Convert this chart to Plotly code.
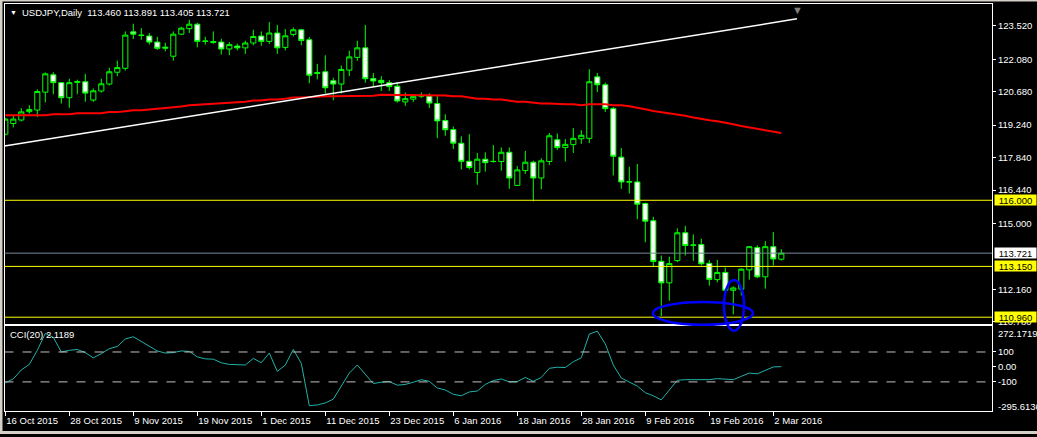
import pandas as pd
import plotly.graph_objects as go
from plotly.subplots import make_subplots

# trading days on the chart (broker has no bars on 25 Dec and 1 Jan)
dates = [d for d in pd.bdate_range("2015-10-16", "2016-03-03")
         if d.strftime("%m-%d") not in ("12-25", "01-01")]
bars = list(range(len(dates)))

open_ = [118.85, 119.31, 119.46, 119.82, 119.89, 120.66, 121.41, 121.07, 120.42, 121.08,
         121.11, 120.32, 120.71, 121.01, 121.52, 121.69, 123.26, 123.12, 123.08, 122.82,
         122.60, 122.21, 123.16, 123.40, 123.59, 122.87, 122.80, 122.82, 122.52, 122.65,
         122.57, 122.78, 123.08, 122.85, 123.21, 122.59, 123.15, 123.35, 122.92, 121.51,
         121.54, 121.15, 121.01, 121.61, 122.16, 122.57, 121.25, 121.17, 121.07, 120.92,
         120.24, 120.36, 120.52, 120.49, 120.17, 119.44, 119.05, 118.46, 117.68, 117.20,
         117.77, 117.68, 117.67, 118.07, 116.64, 117.28, 117.64, 116.96, 117.67, 118.61,
         118.27, 118.40, 118.65, 118.67, 121.32, 120.98, 119.95, 117.86, 116.80, 116.79,
         115.86, 115.12, 113.37, 112.44, 113.40, 114.60, 114.06, 114.09, 113.28, 112.58,
         112.89, 112.12, 112.17, 113.00, 113.96, 112.70, 114.00, 113.460]
high = [119.55, 119.64, 119.97, 120.10, 120.78, 121.51, 121.52, 121.09, 121.24, 121.20,
        121.45, 120.82, 121.24, 121.71, 122.02, 123.28, 123.61, 123.42, 123.21, 123.05,
        122.79, 123.28, 123.48, 123.78, 123.65, 123.05, 123.28, 122.96, 122.82, 122.75,
        122.88, 123.35, 123.28, 123.68, 123.56, 123.38, 123.45, 123.39, 123.04, 121.88,
        122.25, 121.28, 121.81, 122.45, 122.88, 123.56, 121.49, 121.35, 121.18, 121.08,
        120.64, 120.58, 120.65, 120.61, 120.49, 119.71, 119.18, 118.76, 118.85, 118.04,
        118.07, 118.38, 118.28, 118.28, 117.47, 118.13, 117.71, 117.81, 118.90, 118.88,
        118.64, 119.11, 119.02, 121.65, 121.49, 121.07, 120.02, 118.25, 117.45, 117.57,
        115.90, 115.29, 113.62, 113.57, 114.79, 114.90, 114.53, 114.34, 113.42, 113.43,
        113.10, 112.29, 113.07, 114.02, 114.05, 114.24, 114.63, 113.891]
low = [118.80, 119.14, 119.40, 119.74, 119.59, 120.22, 120.57, 120.17, 119.99, 120.57,
       120.25, 120.24, 120.64, 120.95, 121.35, 121.59, 122.95, 122.92, 122.71, 122.48,
       122.42, 122.02, 123.13, 123.21, 122.59, 122.71, 122.75, 122.28, 122.25, 122.46,
       122.31, 122.68, 122.66, 122.74, 122.31, 122.46, 123.06, 122.68, 121.04, 121.21,
       120.60, 120.31, 120.60, 121.35, 122.02, 121.07, 120.88, 120.71, 120.71, 120.21,
       120.07, 120.24, 120.41, 119.98, 118.68, 118.78, 118.21, 117.33, 117.33, 116.67,
       117.24, 117.62, 117.28, 116.50, 116.62, 117.14, 115.95, 116.47, 117.53, 118.17,
       117.67, 118.04, 118.43, 118.47, 120.66, 119.81, 117.07, 116.50, 116.29, 115.18,
       114.19, 113.12, 111.01, 111.67, 113.33, 113.62, 113.39, 113.19, 112.32, 112.46,
       112.05, 111.08, 111.90, 112.58, 112.64, 112.19, 113.19, 113.405]
close = [119.50, 119.50, 119.81, 119.91, 120.69, 121.45, 121.07, 120.42, 121.07, 121.12,
         120.62, 120.72, 121.02, 121.54, 121.72, 123.12, 123.16, 123.11, 122.82, 122.55,
         122.56, 123.16, 123.42, 123.59, 122.85, 122.85, 122.84, 122.52, 122.71, 122.57,
         122.78, 123.06, 122.85, 123.21, 122.57, 123.09, 123.35, 122.89, 121.39, 121.47,
         120.85, 121.01, 121.64, 122.18, 122.57, 121.24, 121.14, 121.07, 120.90, 120.28,
         120.38, 120.48, 120.49, 120.19, 119.42, 119.04, 118.46, 117.68, 117.41, 117.77,
         117.62, 117.67, 118.07, 116.96, 117.31, 117.64, 116.96, 117.70, 118.78, 118.27,
         118.41, 118.67, 118.80, 121.11, 120.98, 119.95, 117.90, 116.79, 116.79, 115.83,
         115.10, 113.36, 112.44, 113.27, 114.60, 114.05, 114.07, 113.26, 112.59, 112.89,
         112.12, 112.22, 113.03, 114.00, 112.70, 114.00, 113.47, 113.721]

# red moving average
ma = [119.67, 119.67, 119.67, 119.67, 119.67, 119.67, 119.71, 119.71, 119.71, 119.75,
      119.75, 119.75, 119.75, 119.80, 119.80, 119.84, 119.88, 119.88, 119.91, 119.95,
      119.95, 120.00, 120.04, 120.10, 120.12, 120.14, 120.17, 120.17, 120.21, 120.21,
      120.25, 120.30, 120.30, 120.34, 120.34, 120.38, 120.43, 120.43, 120.45, 120.48,
      120.48, 120.48, 120.48, 120.51, 120.51, 120.51, 120.51, 120.55, 120.55, 120.55,
      120.55, 120.55, 120.55, 120.52, 120.52, 120.52, 120.48, 120.48, 120.43, 120.38,
      120.38, 120.34, 120.34, 120.30, 120.25, 120.25, 120.21, 120.17, 120.17, 120.14,
      120.14, 120.14, 120.10, 120.14, 120.14, 120.14, 120.10, 120.10, 120.05, 120.00,
      119.92, 119.85, 119.80, 119.75, 119.71, 119.64, 119.57, 119.50, 119.45, 119.41,
      119.36, 119.28, 119.20, 119.14, 119.07, 119.03, 118.98, 118.90]

cci = [-106, -80, -20, 17, 111, 224, 198, 100, 111, 117,
       96, 61, 89, 122, 137, 187, 202, 172, 137, 107,
       93, 96, 107, 104, 67, 54, 52, 28, 17, 13,
       13, 57, 28, 93, -30, 13, 117, 24, -259, -254,
       -241, -215, -128, -41, 13, -46, -111, -102, -98, -122,
       -117, -102, -85, -96, -141, -154, -183, -193, -167, -161,
       -117, -91, -80, -100, -98, -70, -96, -70, -9, -2,
       -4, 35, 61, 220, 239, 154, 13, -74, -100, -128,
       -172, -193, -220, -154, -89, -85, -85, -85, -85, -78,
       -80, -85, -63, -41, -46, -24, 0, 2.1189]

# trendline anchors (bar index, price)
trend_x = [-0.1, 98.96]
trend_y = [118.34, 123.82]

levels = [116.000, 113.150, 110.960]
bid = 113.721
price_ticks = [123.520, 122.080, 120.680, 119.240, 117.840, 116.440, 115.000, 112.160, 110.780]
cci_range = [-295.6136, 272.1719]
date_ticks = bars[::8]
date_labels = [f"{dates[i].day} {dates[i].strftime('%b %Y')}" for i in date_ticks]

W, H = 1037, 437
FONT = "Liberation Sans, Arial, sans-serif"
GREEN = "#00ff00"

fig = make_subplots(rows=2, cols=1, shared_xaxes=True, vertical_spacing=0)

fig.add_trace(go.Candlestick(
    x=bars, open=open_, high=high, low=low, close=close,
    increasing=dict(line=dict(color=GREEN, width=1), fillcolor="#000000"),
    decreasing=dict(line=dict(color=GREEN, width=1), fillcolor="#ffffff"),
    whiskerwidth=0, hoverinfo="skip", showlegend=False), row=1, col=1)

fig.add_trace(go.Scatter(x=bars, y=ma, mode="lines", line=dict(color="#ff0000", width=2),
                         hoverinfo="skip", showlegend=False), row=1, col=1)
fig.add_trace(go.Scatter(x=trend_x, y=trend_y, mode="lines", line=dict(color="#ffffff", width=1.5),
                         hoverinfo="skip", showlegend=False), row=1, col=1)
fig.add_trace(go.Scatter(x=bars, y=cci, mode="lines", line=dict(color="#20b2aa", width=1),
                         hoverinfo="skip", showlegend=False), row=2, col=1)

for lvl in levels:
    fig.add_hline(y=lvl, line_color="#ffff00", line_width=1, row=1, col=1)
fig.add_hline(y=bid, line_color="#778899", line_width=1, row=1, col=1)
for lvl in [100, -100]:
    fig.add_hline(y=lvl, line_color="#c0c0c0", line_width=1, line_dash="dash", row=2, col=1)

# hand drawn ellipses
fig.add_shape(type="circle", xref="x", yref="paper", x0=80.96, x1=93.46,
              y0=1 - 327 / H, y1=1 - 304 / H, line=dict(color="#0000ff", width=2.5))
fig.add_shape(type="circle", xref="x", yref="paper", x0=89.84, x1=92.34,
              y0=1 - 333 / H, y1=1 - 282 / H, line=dict(color="#0000ff", width=2.5))

# window frame strips (left, bottom, top)
for x0, x1, y0, y1 in [(0, 2.5 / W, 0, 1), (0, 1, 0, 3 / H), (0, 1, 1 - 1.5 / H, 1)]:
    fig.add_shape(type="rect", xref="paper", yref="paper", x0=x0, x1=x1, y0=y0, y1=y1,
                  fillcolor="#d4d0c8", line_width=0, layer="above")

# right side labels of the horizontal lines
for lvl in levels:
    fig.add_annotation(x=993.5 / W, xref="paper", xanchor="left", y=lvl, yref="y",
                       yanchor="middle", text=f"{lvl:.3f}", showarrow=False, bgcolor="#ffff00",
                       width=41, height=10, borderpad=0,
                       font=dict(color="#000000", size=9.5, family=FONT))
fig.add_annotation(x=993.5 / W, xref="paper", xanchor="left", y=bid, yref="y",
                   yanchor="middle", text=f"{bid:.3f}", showarrow=False, bgcolor="#ffffff",
                   width=41, height=10, borderpad=0,
                   font=dict(color="#000000", size=9.5, family=FONT))

# min / max labels of the CCI window
fig.add_annotation(x=995.5 / W, xref="paper", xanchor="left", y=cci_range[1], yref="y2",
                   yanchor="middle", yshift=-7.5, text=f"{cci_range[1]:.4f}", showarrow=False,
                   font=dict(color="#ffffff", size=9.5, family=FONT))
fig.add_annotation(x=995.5 / W, xref="paper", xanchor="left", y=cci_range[0], yref="y2",
                   yanchor="middle", yshift=5, text=f"{cci_range[0]:.4f}", showarrow=False,
                   font=dict(color="#ffffff", size=9.5, family=FONT))

# headers
fig.add_annotation(x=8 / W, xref="paper", xanchor="left", y=1 - 12.5 / H, yref="paper",
                   yanchor="middle", text="▼", showarrow=False,
                   font=dict(color="#ffffff", size=7, family=FONT))
fig.add_annotation(x=20 / W, xref="paper", xanchor="left", y=1 - 13 / H, yref="paper",
                   yanchor="middle",
                   text=f"USDJPY,Daily  {open_[-1]:.3f} {high[-1]:.3f} {low[-1]:.3f} {close[-1]:.3f}",
                   showarrow=False, font=dict(color="#ffffff", size=9.5, family=FONT))
fig.add_annotation(x=8 / W, xref="paper", xanchor="left", y=1 - 337 / H, yref="paper",
                   yanchor="middle", text=f"CCI(20) {cci[-1]:.4f}", showarrow=False,
                   font=dict(color="#ffffff", size=9.5, family=FONT))
fig.add_annotation(x=797 / W, xref="paper", xanchor="center", y=1 - 2 / H, yref="paper",
                   yanchor="top", text="▼", showarrow=False,
                   font=dict(color="#808080", size=11, family=FONT))

xdom = [4.5 / W, 992 / W]
xrange = [-0.1, -0.1 + (992 - 4.5) / 8]
axis_common = dict(showgrid=False, zeroline=False, showline=True, mirror=True,
                   linecolor="#ffffff", linewidth=1)

fig.update_layout(
    width=W, height=H,
    margin=dict(l=0, r=0, t=0, b=0),
    paper_bgcolor="#000000", plot_bgcolor="#000000",
    font=dict(family=FONT, size=9.5, color="#ffffff"),
    showlegend=False,
    boxgap=0.2, boxgroupgap=0.2,
    xaxis=dict(domain=xdom, range=xrange, showticklabels=False, ticks="",
               rangeslider=dict(visible=False), **axis_common),
    xaxis2=dict(domain=xdom, range=xrange, tickvals=date_ticks, ticktext=date_labels,
                ticks="outside", ticklen=4, tickcolor="#ffffff",
                ticklabelposition="outside right", **axis_common),
    yaxis=dict(domain=[1 - 326 / H, 1 - 4 / H], range=[110.677, 124.462], side="right",
               tickvals=price_ticks, ticktext=[f"{v:.3f}" for v in price_ticks],
               ticks="outside", ticklen=3, tickcolor="#ffffff", **axis_common),
    yaxis2=dict(domain=[1 - 414 / H, 1 - 328.5 / H], range=cci_range, side="right",
                tickvals=[100, 0, -100], ticktext=["100", "0.00", "-100"],
                ticks="outside", ticklen=3, tickcolor="#ffffff", **axis_common),
)

# page margin off so the figure sits at the window corner
fig.write_html("out.html", config={"displayModeBar": False},
               post_script="document.body.style.margin='0';")
